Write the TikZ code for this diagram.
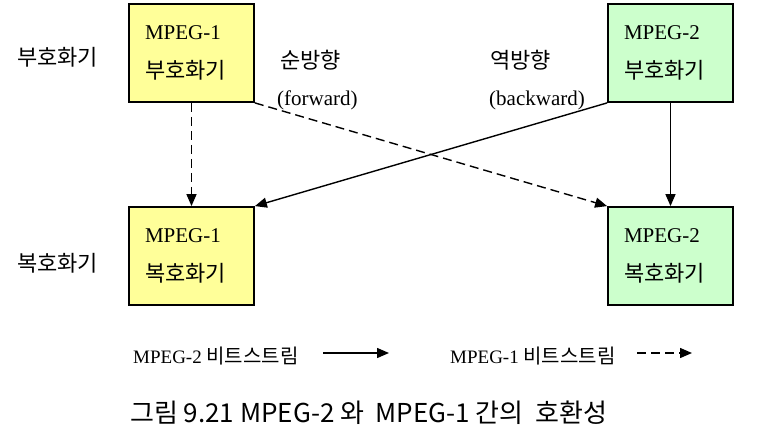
\documentclass[tikz,border=0pt]{standalone}
\usepackage{fontspec}
\setmainfont{Liberation Serif}
\newfontfamily\kr{Noto Sans CJK KR}
\usetikzlibrary{arrows.meta}

\definecolor{boxyellow}{HTML}{FFFF99}
\definecolor{boxgreen}{HTML}{CCFFCC}

\tikzset{
  block/.style={draw, line width=1.8pt, minimum width=125pt, minimum height=98pt,
    text width=93pt, inner xsep=16pt, align=left,
    font=\fontsize{21}{39}\selectfont},
  link/.style={line width=1.4pt, -{Triangle[length=12pt,width=10pt]}},
  dlink/.style={link, dash pattern=on 9pt off 5pt},
  label/.style={anchor=west, inner sep=0pt, font=\kr\fontsize{22}{24}\selectfont},
  eng/.style={anchor=west, inner sep=0pt, font=\fontsize{21}{24}\selectfont},
  legend/.style={anchor=west, inner sep=0pt, font=\fontsize{19}{22}\selectfont}
}

\begin{document}
\begin{tikzpicture}[x=1pt,y=-1pt]
  \useasboundingbox (0,0) rectangle (757,434);

  % encoders and decoders
  \node[block, fill=boxyellow] (enc1) at (191.5,53)  {MPEG-1\\{\kr\fontsize{22}{39}\selectfont 부호화기}};
  \node[block, fill=boxgreen]  (enc2) at (670.5,53)  {MPEG-2\\{\kr\fontsize{22}{39}\selectfont 부호화기}};
  \node[block, fill=boxyellow] (dec1) at (191.5,256) {MPEG-1\\{\kr\fontsize{22}{39}\selectfont 복호화기}};
  \node[block, fill=boxgreen]  (dec2) at (670.5,256) {MPEG-2\\{\kr\fontsize{22}{39}\selectfont 복호화기}};

  \node[label] (enclab) at (17,57)  {부호화기};
  \node[label] (declab) at (17,263) {복호화기};

  \node[label] (fwd)    at (280,60)  {순방향};
  \node[eng]   (fwdeng) at (277,100) {(forward)};
  \node[label] (bwd)    at (490,60)  {역방향};
  \node[eng]   (bwdeng) at (489,100) {(backward)};

  % bitstreams
  \draw[dlink] (enc1) -- (dec1);
  \draw[dlink] (enc1.south east) -- (dec2.north west);
  \draw[link]  (enc2.south west) -- (dec1.north east);
  \draw[link]  (enc2) -- (dec2);

  % legend
  \node[legend] (leg2) at (133,356) {MPEG-2 {\kr\fontsize{20}{22}\selectfont 비트스트림}};
  \node[legend] (leg1) at (450,356) {MPEG-1 {\kr\fontsize{20}{22}\selectfont 비트스트림}};
  \coordinate (leg2a) at (323,353);
  \coordinate (leg2b) at (389,353);
  \coordinate (leg1a) at (637,353);
  \coordinate (leg1b) at (692,353);
  \draw[link]  (leg2a) -- (leg2b);
  \draw[dlink] (leg1a) -- (leg1b);

  \node[anchor=west, inner sep=0pt, font=\kr\fontsize{26}{28}\selectfont] (caption)
    at (130,413) {그림 9.21 MPEG-2 와~ MPEG-1 간의~ 호환성};
\end{tikzpicture}
\end{document}
